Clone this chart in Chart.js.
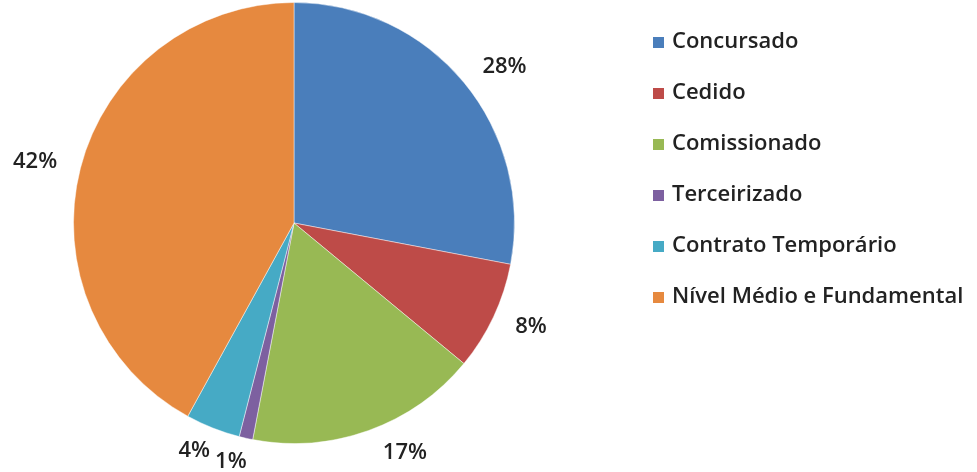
<!DOCTYPE html>
<html>
<head>
<meta charset="utf-8">
<script src="https://cdn.jsdelivr.net/npm/chart.js@4.4.0/dist/chart.umd.min.js"></script>
<style>
  html, body { margin: 0; padding: 0; background: #ffffff; }
  #wrap { position: relative; width: 977px; height: 472px; }
</style>
</head>
<body>
<div id="wrap"><canvas id="pie" width="977" height="472"></canvas></div>
<script>
// Distribuição do quadro de pessoal por vínculo (%)
const categories = [
  'Concursado',
  'Cedido',
  'Comissionado',
  'Terceirizado',
  'Contrato Temporário',
  'Nível Médio e Fundamental'
];
const shares = [28, 8, 17, 1, 4, 42];
const sliceColors = ['#4A7EBB', '#BE4B48', '#98B954', '#7D60A0', '#46AAC5', '#E6893F'];

const FONT = '"Open Sans", "DejaVu Sans", sans-serif';
const TEXT_COLOR = '#222222';

// Percentage labels placed just outside each slice
const outsideLabels = {
  id: 'outsideLabels',
  afterDatasetsDraw(chart) {
    const ctx = chart.ctx;
    const meta = chart.getDatasetMeta(0);
    ctx.save();
    ctx.font = '600 22px ' + FONT;
    ctx.fillStyle = TEXT_COLOR;
    ctx.textAlign = 'center';
    ctx.textBaseline = 'middle';
    meta.data.forEach((arc, i) => {
      const p = arc.getProps(['x', 'y', 'startAngle', 'endAngle', 'outerRadius'], true);
      const mid = (p.startAngle + p.endAngle) / 2;
      const c = Math.cos(mid), s = Math.sin(mid);
      const text = shares[i] + '%';
      const w = ctx.measureText(text).width;
      const ex = p.x + c * p.outerRadius;
      const ey = p.y + s * p.outerRadius;
      const tx = ex + c * 24 + Math.sign(c) * w / 2 + (s > 0.9 ? 6 : 0);
      const ty = ey + s * 24;
      ctx.fillText(text, tx, ty);
    });
    ctx.restore();
  }
};

// Legend list on the right, built from the same categories and colours
const sideLegend = {
  id: 'sideLegend',
  afterDraw(chart) {
    const ctx = chart.ctx;
    const left = 653, top = 42, step = 51, box = 11;
    ctx.save();
    ctx.font = '600 22px ' + FONT;
    ctx.textBaseline = 'middle';
    ctx.textAlign = 'left';
    categories.forEach((name, i) => {
      const y = top + i * step;
      ctx.fillStyle = sliceColors[i];
      ctx.fillRect(left, Math.round(y - box / 2), box, box);
      ctx.fillStyle = TEXT_COLOR;
      ctx.fillText(name, left + 19, y);
    });
    ctx.restore();
  }
};

new Chart(document.getElementById('pie'), {
  type: 'pie',
  data: {
    labels: categories,
    datasets: [{
      data: shares,
      backgroundColor: sliceColors,
      borderColor: 'rgba(255,255,255,0.45)',
      borderWidth: 1
    }]
  },
  options: {
    responsive: false,
    animation: false,
    layout: { padding: { left: 73, top: 2, right: 462, bottom: 28 } },
    plugins: {
      legend: { display: false },
      tooltip: { enabled: false }
    }
  },
  plugins: [outsideLabels, sideLegend]
});
</script>
</body>
</html>
